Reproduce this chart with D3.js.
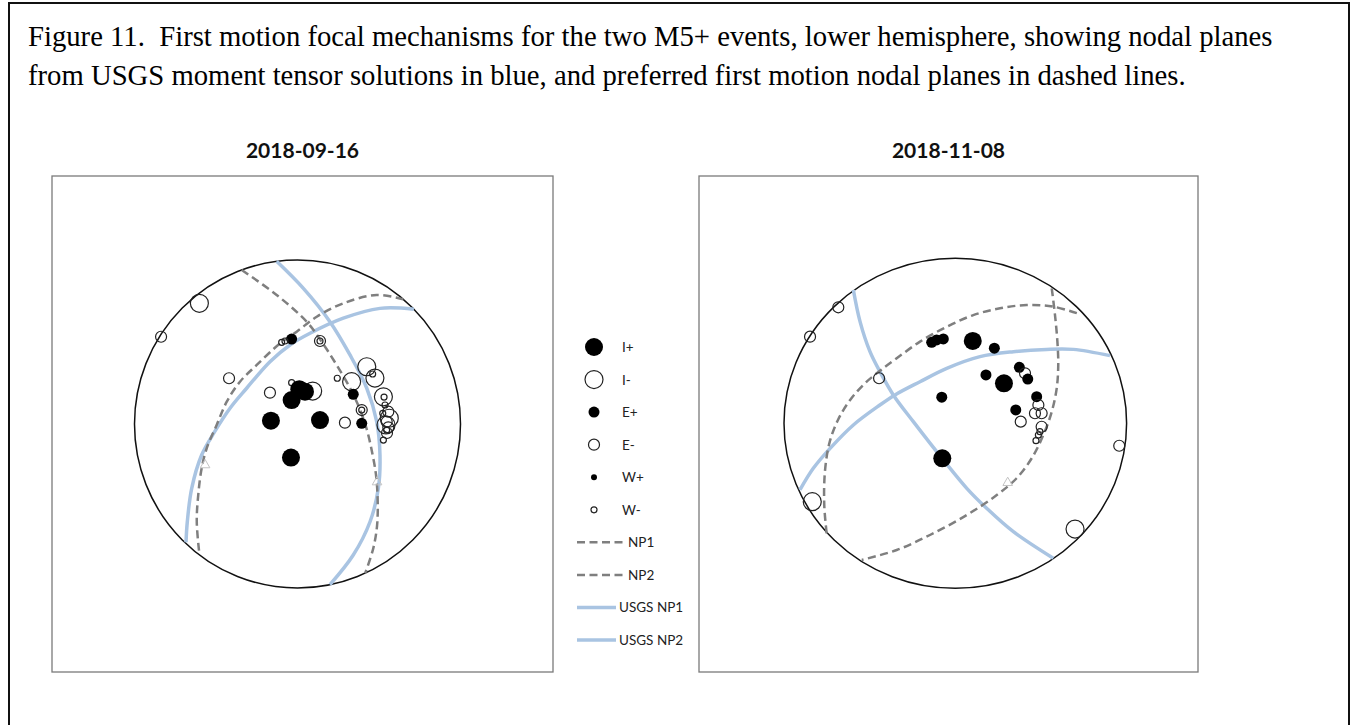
<!DOCTYPE html>
<html>
<head>
<meta charset="utf-8">
<script src="https://cdn.jsdelivr.net/npm/d3@7"></script>
<style>
  html, body { margin: 0; padding: 0; background: #fff; }
  svg { display: block; }
  .caption text { white-space: pre; }
</style>
</head>
<body>
<svg id="fig" width="1351" height="725"></svg>
<script>
// ---------- text ----------
const captionLines = [
  "Figure 11.  First motion focal mechanisms for the two M5+ events, lower hemisphere, showing nodal planes",
  "from USGS moment tensor solutions in blue, and preferred first motion nodal planes in dashed lines."
];
const panelTitles = ["2018-09-16", "2018-11-08"];
const polarityKeys = ["I+", "I-", "E+", "E-", "W+", "W-"];
const planeKeys = ["NP1", "NP2", "USGS NP1", "USGS NP2"];

// ---------- event 1 (2018-09-16) ----------
// nodal plane traces on the lower-hemisphere net, unit radius, x = east, y = north
const ev1NP1 = [[-0.342,0.939],[-0.128,0.787],[0.056,0.624],[0.148,0.502],[0.240,0.360],[0.339,0.187],
  [0.414,0.004],[0.461,-0.189],[0.486,-0.352],[0.490,-0.596],[0.465,-0.758],[0.415,-0.910]];
const ev1NP2 = [[0.650,0.760],[0.486,0.787],[0.281,0.736],[0.118,0.654],[-0.005,0.563],[-0.107,0.492],
  [-0.250,0.360],[-0.353,0.258],[-0.434,0.136],[-0.496,-0.006],[-0.557,-0.148],[-0.588,-0.270],
  [-0.609,-0.433],[-0.618,-0.596],[-0.602,-0.793]];
const ev1UsgsNP1 = [[-0.128,0.992],[0.036,0.827],[0.199,0.624],[0.322,0.421],[0.425,0.218],[0.486,0.014],
  [0.506,-0.189],[0.496,-0.392],[0.445,-0.596],[0.342,-0.799],[0.199,-0.980]];
const ev1UsgsNP2 = [[0.714,0.700],[0.506,0.705],[0.281,0.645],[0.077,0.553],[-0.046,0.482],[-0.169,0.380],
  [-0.312,0.218],[-0.414,0.096],[-0.510,-0.050],[-0.588,-0.189],[-0.649,-0.392],[-0.676,-0.596],[-0.684,-0.721]];
// station first motions: [x, y, polarity]
const ev1Obs = [
  [-0.602,0.736,"I-"],[-0.837,0.532,"E-"],[-0.036,0.518,"E+"],[-0.097,0.498,"W-"],[-0.077,0.506,"W-"],
  [0.138,0.506,"E-"],[0.138,0.506,"W-"],[-0.420,0.279,"E-"],[0.244,0.279,"W-"],[0.425,0.349,"I-"],
  [0.461,0.305,"W-"],[0.475,0.280,"I-"],[0.332,0.258,"I-"],[0.342,0.181,"E+"],[-0.169,0.191,"E-"],
  [-0.036,0.252,"W-"],[0.093,0.201,"I-"],[0.046,0.197,"I+"],[0.011,0.212,"I+"],[-0.036,0.146,"I+"],
  [-0.163,0.020,"I+"],[0.138,0.024,"I+"],[-0.040,-0.205,"I+"],[0.291,0.008,"E-"],[0.394,0.004,"E+"],
  [0.394,0.085,"E-"],[0.394,0.085,"W-"],
  [0.527,0.166,"I-"],[0.531,0.164,"W-"],[0.537,0.116,"W-"],[0.557,0.075,"E-"],[0.523,0.065,"W-"],
  [0.563,0.035,"I-"],[0.547,0.014,"E-"],[0.543,-0.006,"I-"],[0.557,-0.020,"E-"],[0.547,-0.037,"W-"],
  [0.549,-0.055,"E-"],[0.527,-0.098,"W-"]
];
const ev1Axes = [[-0.567,-0.250],[0.488,-0.354]];

// ---------- event 2 (2018-11-08) ----------
const ev2NP1 = [[-0.751,-0.667],[-0.765,-0.495],[-0.761,-0.293],[-0.735,-0.120],[-0.685,0.020],[-0.615,0.140],
  [-0.530,0.240],[-0.440,0.318],[-0.342,0.394],[-0.206,0.495],[-0.050,0.585],[0.105,0.656],[0.261,0.697],
  [0.417,0.717],[0.572,0.707],[0.728,0.661]];
const ev2NP2 = [[0.563,0.818],[0.582,0.656],[0.596,0.495],[0.601,0.353],[0.592,0.212],[0.563,0.070],
  [0.514,-0.071],[0.446,-0.212],[0.358,-0.333],[0.242,-0.435],[0.067,-0.556],[-0.148,-0.677],
  [-0.342,-0.768],[-0.546,-0.828]];
const ev2UsgsNP1 = [[-0.595,0.808],[-0.556,0.616],[-0.498,0.434],[-0.440,0.313],[-0.362,0.172],[-0.245,0.010],
  [-0.070,-0.222],[0.067,-0.394],[0.183,-0.515],[0.339,-0.657],[0.572,-0.818]];
const ev2UsgsNP2 = [[-0.907,-0.404],[-0.829,-0.273],[-0.731,-0.152],[-0.595,-0.010],[-0.440,0.111],
  [-0.352,0.172],[-0.206,0.252],[-0.050,0.333],[0.144,0.404],[0.339,0.434],[0.533,0.448],[0.689,0.448],
  [0.903,0.410]];
const ev2Obs = [
  [-0.683,0.703,"E-"],[-0.848,0.525,"E-"],[-0.445,0.273,"E-"],
  [-0.138,0.491,"E+"],[-0.109,0.505,"E+"],[-0.070,0.511,"E+"],[0.102,0.499,"I+"],[0.228,0.455,"E+"],
  [0.374,0.339,"E+"],[0.407,0.303,"E-"],[0.423,0.268,"E+"],[0.179,0.293,"E+"],[0.284,0.242,"I+"],
  [-0.079,0.158,"E+"],[0.475,0.161,"E+"],[0.353,0.081,"E+"],[0.485,0.111,"E-"],[0.465,0.061,"E-"],
  [0.504,0.061,"E-"],[0.382,0.010,"E-"],[0.504,-0.021,"E-"],[0.494,-0.051,"W-"],[0.485,-0.071,"W-"],
  [0.471,-0.105,"W-"],[-0.076,-0.212,"I+"],[0.957,-0.136,"E-"],[-0.835,-0.475,"I-"],[0.699,-0.641,"I-"]
];
const ev2Axes = [[0.306,-0.360]];

// ---------- drawing ----------
const svg = d3.select("#fig");
svg.append("rect").attr("width", 1351).attr("height", 725).attr("fill", "#fff");

// outer frame (open at the bottom edge of the page)
svg.append("rect").attr("x", 9).attr("y", 3).attr("width", 1340).attr("height", 740)
  .attr("fill", "none").attr("stroke", "#111").attr("stroke-width", 2);

const caption = svg.append("g").attr("class", "caption")
  .attr("font-family", "'Liberation Serif', 'Times New Roman', serif")
  .attr("font-size", 28.7).attr("fill", "#000");
caption.selectAll("text").data(captionLines).join("text")
  .attr("x", 28).attr("y", (d, i) => 46 + i * 39).text(d => d);

const COL_BLUE = "#a9c4e2", COL_DASH = "#7f7f7f";
const radius = d3.scaleOrdinal().domain(["I", "E", "W"]).range([9, 5.5, 3]);

const panels = [
  { title: panelTitles[0], box: [52, 176, 501, 496], c: [297.5, 424], r: [163, 164],
    dashed: [ev1NP1, ev1NP2], usgs: [ev1UsgsNP1, ev1UsgsNP2], obs: ev1Obs, axes: ev1Axes },
  { title: panelTitles[1], box: [699, 176, 499, 496], c: [955.3, 423.3], r: [171.3, 165],
    dashed: [ev2NP1, ev2NP2], usgs: [ev2UsgsNP1, ev2UsgsNP2], obs: ev2Obs, axes: ev2Axes }
];

panels.forEach(p => {
  const g = svg.append("g");
  const [bx, by, bw, bh] = p.box;
  g.append("rect").attr("x", bx).attr("y", by).attr("width", bw).attr("height", bh)
    .attr("fill", "#fff").attr("stroke", "#7a7a7a").attr("stroke-width", 1.3);
  g.append("text").attr("x", bx + bw / 2).attr("y", 158).attr("text-anchor", "middle")
    .attr("font-family", "Lato, 'Open Sans', sans-serif").attr("font-weight", "bold")
    .attr("font-size", 21).attr("fill", "#111").text(p.title);

  const x = d3.scaleLinear().domain([-1, 1]).range([p.c[0] - p.r[0], p.c[0] + p.r[0]]);
  const y = d3.scaleLinear().domain([-1, 1]).range([p.c[1] + p.r[1], p.c[1] - p.r[1]]);

  // primitive circle of the net
  g.append("ellipse").attr("cx", x(0)).attr("cy", y(0))
    .attr("rx", x(1) - x(0)).attr("ry", y(-1) - y(0))
    .attr("fill", "none").attr("stroke", "#111").attr("stroke-width", 1.5);

  const line = d3.line().x(d => x(d[0])).y(d => y(d[1])).curve(d3.curveCatmullRom.alpha(0.5));

  g.selectAll("path.usgs").data(p.usgs).join("path").attr("class", "usgs")
    .attr("d", line).attr("fill", "none").attr("stroke", COL_BLUE).attr("stroke-width", 3.5);
  g.selectAll("path.np").data(p.dashed).join("path").attr("class", "np")
    .attr("d", line).attr("fill", "none").attr("stroke", COL_DASH).attr("stroke-width", 2.5)
    .attr("stroke-dasharray", "8,4.5");

  g.selectAll("path.axis").data(p.axes).join("path").attr("class", "axis")
    .attr("transform", d => `translate(${x(d[0])},${y(d[1])})`)
    .attr("d", d3.symbol(d3.symbolTriangle, 40)())
    .attr("fill", "none").attr("stroke", "#c4c4c4").attr("stroke-width", 1);

  g.selectAll("circle.obs").data(p.obs).join("circle").attr("class", "obs")
    .attr("cx", d => x(d[0])).attr("cy", d => y(d[1]))
    .attr("r", d => radius(d[2][0]))
    .attr("fill", d => d[2][1] === "+" ? "#000" : "none")
    .attr("stroke", d => d[2][1] === "+" ? "none" : "#222")
    .attr("stroke-width", 1.2);
});

// ---------- legend ----------
const legend = svg.append("g").attr("font-family", "Lato, 'Open Sans', sans-serif")
  .attr("font-size", 13.5).attr("fill", "#222");
const legY = d3.scalePoint().domain(polarityKeys.concat(planeKeys)).range([347, 640]);
polarityKeys.forEach(k => {
  const plus = k[1] === "+";
  legend.append("circle").attr("cx", 594).attr("cy", legY(k)).attr("r", radius(k[0]))
    .attr("fill", plus ? "#000" : "none").attr("stroke", plus ? "none" : "#222").attr("stroke-width", 1.2);
  legend.append("text").attr("x", 622).attr("y", legY(k) + 5).text(k);
});
planeKeys.forEach(k => {
  const usgs = k.startsWith("USGS");
  legend.append("line").attr("x1", 577).attr("x2", usgs ? 616 : 626)
    .attr("y1", legY(k)).attr("y2", legY(k))
    .attr("stroke", usgs ? COL_BLUE : COL_DASH).attr("stroke-width", usgs ? 3.5 : 2.5)
    .attr("stroke-dasharray", usgs ? null : "8,4.5");
  legend.append("text").attr("x", usgs ? 619 : 628).attr("y", legY(k) + 5).text(k);
});
</script>
</body>
</html>
